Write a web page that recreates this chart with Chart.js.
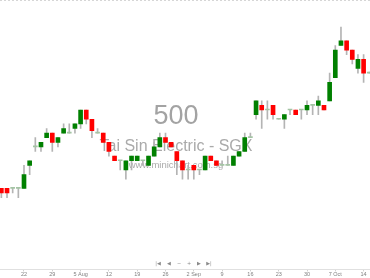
<!DOCTYPE html>
<html lang="en">
<head>
    <title>500 - Tai Sin Electric</title>
    <script src="https://cdn.jsdelivr.net/npm/chart.js"></script>
    <style>
        body {
            margin: 0;
            background: #fff;
        }
        canvas {
            display: block;
        }
    </style>
</head>
<body>
<canvas id="myChart" width="370" height="278"></canvas>
<script>
    // one entry per trading day, 16 Jul .. 15 Oct
    const dates = [
        '16 Jul', '17 Jul', '18 Jul', '19 Jul',
        '22 Jul', '23 Jul', '24 Jul', '25 Jul', '26 Jul',
        '29 Jul', '30 Jul', '31 Jul', '1 Aug', '2 Aug',
        '5 Aug', '6 Aug', '7 Aug', '8 Aug', '9 Aug',
        '12 Aug', '13 Aug', '14 Aug', '15 Aug', '16 Aug',
        '19 Aug', '20 Aug', '21 Aug', '22 Aug', '23 Aug',
        '26 Aug', '27 Aug', '28 Aug', '29 Aug', '30 Aug',
        '2 Sep', '3 Sep', '4 Sep', '5 Sep', '6 Sep',
        '9 Sep', '10 Sep', '11 Sep', '12 Sep', '13 Sep',
        '16 Sep', '17 Sep', '18 Sep', '19 Sep', '20 Sep',
        '23 Sep', '24 Sep', '25 Sep', '26 Sep', '27 Sep',
        '30 Sep', '1 Oct', '2 Oct', '3 Oct', '4 Oct',
        '7 Oct', '8 Oct', '9 Oct', '10 Oct', '11 Oct',
        '14 Oct', '15 Oct'
    ];

    const opens = [
        0.300, 0.300, 0.300, 0.300,
        0.300, 0.325, 0.345, 0.345, 0.355,
        0.360, 0.350, 0.360, 0.360, 0.365,
        0.370, 0.385, 0.375, 0.360, 0.360,
        0.350, 0.335, 0.330, 0.320, 0.330,
        0.330, 0.330, 0.325, 0.335, 0.345,
        0.355, 0.350, 0.340, 0.330, 0.320,
        0.325, 0.320, 0.320, 0.335, 0.330,
        0.325, 0.325, 0.325, 0.335, 0.340,
        0.355, 0.380, 0.390, 0.385, 0.390,
        0.375, 0.375, 0.385, 0.385, 0.385,
        0.385, 0.390, 0.390, 0.390, 0.395,
        0.420, 0.455, 0.460, 0.450, 0.430,
        0.440, 0.425
    ];

    const closes = [
        0.295, 0.295, 0.300, 0.300,
        0.315, 0.330, 0.345, 0.350, 0.360,
        0.350, 0.355, 0.365, 0.360, 0.370,
        0.385, 0.375, 0.3625, 0.360, 0.350,
        0.340, 0.330, 0.330, 0.330, 0.335,
        0.335, 0.330, 0.335, 0.345, 0.355,
        0.350, 0.345, 0.330, 0.320, 0.320,
        0.320, 0.320, 0.335, 0.330, 0.325,
        0.325, 0.325, 0.335, 0.340, 0.355,
        0.355, 0.395, 0.385, 0.385, 0.380,
        0.375, 0.380, 0.385, 0.380, 0.385,
        0.390, 0.390, 0.395, 0.385, 0.415,
        0.450, 0.460, 0.450, 0.440, 0.440,
        0.425, 0.425
    ];

    const highs = [
        0.300, 0.300, 0.300, 0.300,
        0.325, 0.330, 0.355, 0.350, 0.365,
        0.360, 0.355, 0.370, 0.370, 0.370,
        0.385, 0.385, 0.375, 0.365, 0.360,
        0.350, 0.335, 0.330, 0.330, 0.335,
        0.335, 0.330, 0.335, 0.350, 0.360,
        0.360, 0.350, 0.340, 0.330, 0.325,
        0.325, 0.320, 0.335, 0.335, 0.330,
        0.330, 0.335, 0.335, 0.340, 0.360,
        0.360, 0.395, 0.395, 0.395, 0.390,
        0.375, 0.380, 0.385, 0.385, 0.385,
        0.395, 0.390, 0.400, 0.390, 0.425,
        0.455, 0.475, 0.460, 0.450, 0.445,
        0.445, 0.425
    ];

    const lows = [
        0.290, 0.290, 0.295, 0.290,
        0.300, 0.315, 0.340, 0.340, 0.355,
        0.340, 0.345, 0.360, 0.360, 0.360,
        0.365, 0.370, 0.355, 0.360, 0.350,
        0.335, 0.330, 0.320, 0.310, 0.320,
        0.330, 0.325, 0.325, 0.335, 0.345,
        0.350, 0.345, 0.315, 0.310, 0.310,
        0.310, 0.315, 0.320, 0.330, 0.325,
        0.325, 0.325, 0.325, 0.335, 0.340,
        0.355, 0.375, 0.365, 0.375, 0.375,
        0.375, 0.365, 0.380, 0.380, 0.375,
        0.380, 0.380, 0.380, 0.385, 0.395,
        0.420, 0.455, 0.445, 0.435, 0.425,
        0.415, 0.425
    ];

    // Monday ticks (index of 22 Jul is 4, so x = index - 4)
    const tickValues = [0, 5, 10, 15, 20, 25, 30, 35, 40, 45, 50, 55, 60];
    const tickLabels = ['22', '29', '5 Aug', '12', '19', '26', '2 Sep', '9', '16', '23', '30', '7 Oct', '14'];

    const watermark = ['500', 'Tai Sin Electric - SGX', 'www.minichart.com.sg'];

    const bodies = dates.map((d, i) => ({x: i - 4, y: [opens[i], closes[i]]}));
    const wicks = dates.map((d, i) => ({x: i - 4, y: [lows[i], highs[i]]}));
    const bodyColors = dates.map((d, i) => {
        if (closes[i] > opens[i]) return '#008000';
        if (closes[i] < opens[i]) return '#ff0000';
        return '#a4c4a4';
    });

    const decorations = {
        id: 'decorations',
        beforeDatasetsDraw(chart) {
            const c = chart.ctx;
            c.save();
            c.textAlign = 'center';
            c.textBaseline = 'middle';
            c.fillStyle = '#a3a3a3';
            c.font = '27px "Liberation Sans", Arial, sans-serif';
            c.fillText(watermark[0], 176, 117);
            c.fillStyle = '#aaaaaa';
            c.font = '16px "Liberation Sans", Arial, sans-serif';
            c.fillText(watermark[1], 176, 147);
            c.font = '9.5px "Liberation Sans", Arial, sans-serif';
            c.fillText(watermark[2], 176, 165);
            c.restore();
        },
        afterDraw(chart) {
            const c = chart.ctx;
            c.save();
            // dotted frame line at the top
            c.strokeStyle = '#d6d6d6';
            c.lineWidth = 1;
            c.setLineDash([2, 2]);
            c.beginPath();
            c.moveTo(0, 0.5);
            c.lineTo(chart.width, 0.5);
            c.stroke();
            c.setLineDash([]);
            // navigation buttons
            c.fillStyle = '#8a8a8a';
            c.font = '5px "DejaVu Sans", sans-serif';
            c.textAlign = 'center';
            c.textBaseline = 'middle';
            const nav = ['|◀', '◀', '−', '+', '▶', '▶|'];
            const navX = [158, 169, 179, 189, 199, 209];
            nav.forEach((s, i) => c.fillText(s, navX[i], 264));
            c.restore();
        }
    };

    const ctx = document.getElementById('myChart').getContext('2d');
    const chart = new Chart(ctx, {
        type: 'bar',
        data: {
            datasets: [
                {
                    label: 'body',
                    data: bodies,
                    backgroundColor: bodyColors,
                    borderWidth: 0,
                    barThickness: 4,
                    minBarLength: 1,
                    grouped: false,
                    order: 0
                },
                {
                    label: 'wick',
                    data: wicks,
                    backgroundColor: '#b4b4b4',
                    borderWidth: 0,
                    barThickness: 1,
                    minBarLength: 1,
                    grouped: false,
                    order: 1
                }
            ]
        },
        options: {
            responsive: false,
            animation: false,
            devicePixelRatio: 1,
            layout: {
                padding: 0
            },
            plugins: {
                legend: {display: false},
                tooltip: {enabled: false},
                title: {display: false}
            },
            scales: {
                x: {
                    type: 'linear',
                    offset: false,
                    min: -4.24,
                    max: 61.13,
                    grid: {
                        display: true,
                        offset: false,
                        drawOnChartArea: false,
                        tickLength: 2,
                        color: '#d0d0d0'
                    },
                    border: {
                        color: '#e0e0e0'
                    },
                    afterBuildTicks: axis => {
                        axis.ticks = tickValues.map(v => ({value: v}));
                    },
                    ticks: {
                        autoSkip: false,
                        maxRotation: 0,
                        padding: 0,
                        color: '#808080',
                        font: {
                            family: '"Liberation Sans", Arial, sans-serif',
                            size: 5.5
                        },
                        callback: value => tickLabels[tickValues.indexOf(value)]
                    }
                },
                y: {
                    display: false,
                    min: 0.2122,
                    max: 0.5043
                }
            }
        },
        plugins: [decorations]
    });
</script>
</body>
</html>
